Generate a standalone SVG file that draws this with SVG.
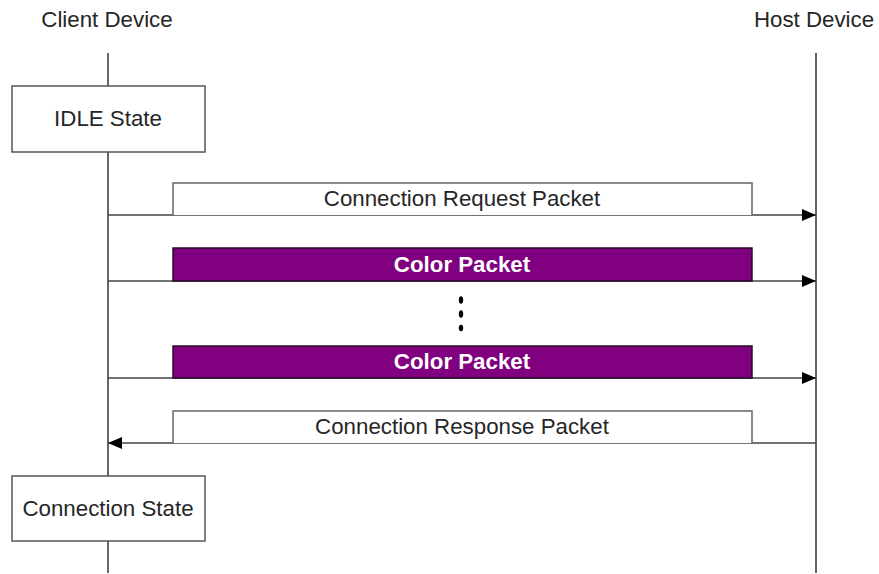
<svg xmlns="http://www.w3.org/2000/svg" width="879" height="574" viewBox="0 0 879 574">
<style>
text{font-family:"Liberation Sans",Arial,sans-serif;font-size:22.3px;fill:#262626;text-anchor:middle}
.w{fill:#fff;font-weight:bold}
.box{fill:#fff;stroke:#555;stroke-width:1.5}
.pkt{fill:#fff;stroke:#666;stroke-width:1.5}
.col{fill:#800080;stroke:#2a0a2a;stroke-width:1.5}
.ll{stroke:#333;stroke-width:1.5;fill:none}
.msg{stroke:#444;stroke-width:1.5;fill:none}
</style>
<defs>
<marker id="ah" markerWidth="14" markerHeight="12" refX="14" refY="6" orient="auto" markerUnits="userSpaceOnUse">
<path d="M0,0 L14,6 L0,12 Z" fill="#000"/>
</marker>
</defs>
<g id="lifelines">
<text x="107" y="27">Client Device</text>
<text x="814" y="27">Host Device</text>
<line class="ll" x1="108" y1="53" x2="108" y2="573"/>
<line class="ll" x1="816" y1="53" x2="816" y2="573"/>
</g>
<g id="idle">
<rect class="box" x="12" y="86" width="193" height="66"/>
<text x="108" y="126">IDLE State</text>
</g>
<g id="connstate">
<rect class="box" x="12" y="476" width="193" height="65"/>
<text x="108" y="516">Connection State</text>
</g>
<g id="connectors">
<line class="msg" x1="108" y1="215" x2="816" y2="215" marker-end="url(#ah)"/>
<line class="msg" x1="108" y1="281" x2="816" y2="281" marker-end="url(#ah)"/>
<line class="msg" x1="108" y1="378" x2="816" y2="378" marker-end="url(#ah)"/>
<line class="msg" x1="816" y1="443" x2="108" y2="443" marker-end="url(#ah)"/>
</g>
<g id="req">
<path class="pkt" d="M173,215 V183 H752 V215"/>
<text x="462" y="206">Connection Request Packet</text>
</g>
<g id="color1">
<rect class="col" x="173" y="248" width="579" height="33"/>
<text class="w" x="462" y="272">Color Packet</text>
</g>
<g id="dots">
<ellipse cx="461" cy="300" rx="2.2" ry="3.8" fill="#000"/>
<ellipse cx="461" cy="314" rx="2.2" ry="3.8" fill="#000"/>
<ellipse cx="461" cy="328" rx="2.2" ry="3.2" fill="#000"/>
</g>
<g id="color2">
<rect class="col" x="173" y="346" width="579" height="32"/>
<text class="w" x="462" y="369">Color Packet</text>
</g>
<g id="resp">
<path class="pkt" d="M173,443 V411 H752 V443"/>
<text x="462" y="434">Connection Response Packet</text>
</g>
</svg>
